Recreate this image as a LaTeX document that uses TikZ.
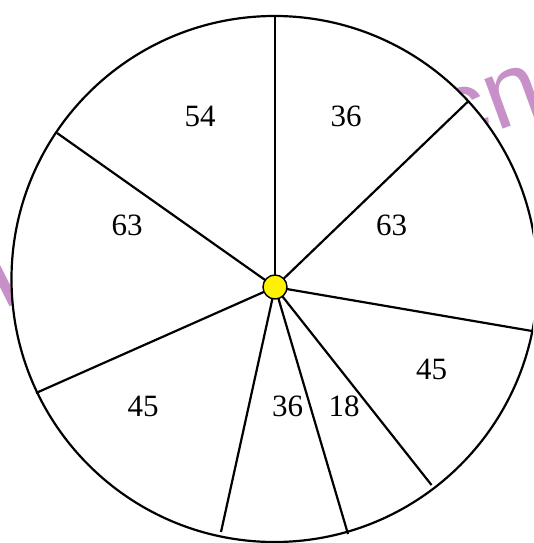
\documentclass[tikz,border=0pt]{standalone}
\usepackage{fontspec}
\setmainfont{Liberation Serif}
\newfontfamily\wmfont{Liberation Sans}
\begin{document}
\begin{tikzpicture}[x=1pt,y=-1pt,
  spoke/.style={line width=2.2pt},
  lbl/.style={inner sep=0pt,font=\fontsize{31}{31}\selectfont},
  wm/.style={text=wmcol,font=\wmfont\fontsize{100}{100}\selectfont}]
\definecolor{wmcol}{HTML}{C890C8}
\useasboundingbox (0,0) rectangle (533,543);
\clip (0,0) rectangle (533,543);
% watermark
\node[wm,anchor=base west,rotate=20] (wmark) at (446,150) {cn};
\draw[wmcol,line width=10pt] (-4,268) -- (14,304);
% wheel
\node[draw,circle,fill=white,line width=2.2pt,minimum size=526pt,inner sep=0pt] (wheel) at (274.5,279) {};
\coordinate (c) at (275,287);
\coordinate (p1) at (275,16);
\coordinate (p2) at (468,101.5);
\coordinate (p3) at (532,331);
\coordinate (p4) at (431.5,485);
\coordinate (p5) at (348,534);
\coordinate (p6) at (221,532);
\coordinate (p7) at (36,393);
\coordinate (p8) at (57,133);
\foreach \i in {1,...,8} \draw[spoke] (c) -- (p\i);
\node[draw,circle,fill=yellow,line width=1.4pt,minimum size=24pt,inner sep=0pt] (hub) at (c) {};
\node[lbl] (l54) at (200,116.5) {54};
\node[lbl] (l36a) at (346,116.5) {36};
\node[lbl] (l63a) at (127,225) {63};
\node[lbl] (l63b) at (391.5,225) {63};
\node[lbl] (l45a) at (431.6,369.6) {45};
\node[lbl] (l45b) at (143,406) {45};
\node[lbl] (l36b) at (287.7,406) {36};
\node[lbl] (l18) at (344,406) {18};
\end{tikzpicture}
\end{document}
